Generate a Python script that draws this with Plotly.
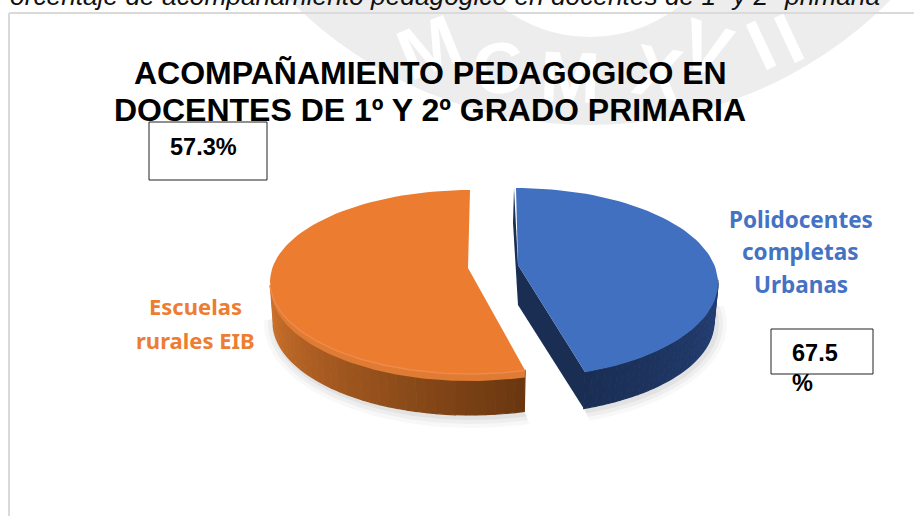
import numpy as np
import plotly.graph_objects as go

# ---- data ----
category_lines = [["Polidocentes", "completas", "Urbanas"], ["Escuelas", "rurales EIB"]]
slice_shares = [45.0, 55.0]          # visual share of each slice
box_labels = [["67.5", "%"], ["57.3%"]]
title_lines = ["ACOMPAÑAMIENTO PEDAGOGICO EN", "DOCENTES DE 1º Y 2º GRADO PRIMARIA"]
caption = "orcentaje de acompañamiento pedagógico en docentes de 1º y 2º primaria"
watermark = ["M", "C", "M", "X", "V", "I", "I"]

W, H = 914, 516
GAP = 2.0
bounds = np.cumsum([0] + slice_shares) / sum(slice_shares) * 360
blue_range = (bounds[0], bounds[1] - GAP)
orange_range = (bounds[1] + GAP, bounds[2])

def arc(c, t0, t1, n=80):
    t = np.radians(np.linspace(t0, t1, n))
    return c[0] + c[2] * np.sin(t), c[1] - c[3] * np.cos(t)

def lerp(a, b, f):
    return "#%02x%02x%02x" % tuple(int(round(a[i] + (b[i] - a[i]) * f)) for i in range(3))

fig = go.Figure()

def poly(x, y, color, line=None, lw=0):
    fig.add_trace(go.Scatter(x=list(x), y=list(y), mode="lines", fill="toself",
                             fillcolor=color, hoverinfo="skip", showlegend=False,
                             line=dict(color=line or color, width=lw)))

def side(top, bot, t0, t1, c0, c1, n=36):
    e = np.linspace(t0, t1, n + 1)
    for i in range(n):
        xa, ya = arc(top, e[i], e[i + 1], 4)
        xb, yb = arc(bot, e[i], e[i + 1], 4)
        col = lerp(c0, c1, i / (n - 1))
        poly(np.r_[xa, xb[::-1]], np.r_[ya, yb[::-1]], col, line=col, lw=1.2)

o_top = (470, 282, 200, 92)
o_bot = (470, 322, 197, 93)
o_apex = (468, 268)
b_top = (516, 283, 202, 95)
b_bot = (516, 322, 198, 92)
b_apex = (518, 265)

# soft shadow beneath the solids
for grow, alpha in [(11, 0.06), (7, 0.08), (3, 0.10)]:
    for c, t0, t1 in [(o_bot, orange_range[0], 272), (b_bot, 80, blue_range[1])]:
        x, y = arc(c, t0, t1)
        x2, y2 = arc((c[0] + 2, c[1] + 2, c[2] + grow, c[3] + grow), t0, t1)
        poly(np.r_[x, x2[::-1]], np.r_[y, y2[::-1]], f"rgba(130,130,130,{alpha})")

# orange solid
side(o_top, o_bot, 268, orange_range[0], (0xCE, 0x72, 0x2C), (0x6A, 0x37, 0x10))
xa, ya = arc(o_top, orange_range[0], 268)
xb, yb = arc((o_top[0], o_top[1] + 7, o_top[2] - 1, o_top[3]), orange_range[0], 268)
poly(np.r_[xa, xb[::-1]], np.r_[ya, yb[::-1]], "#DF7B33")
x, y = arc(o_top, orange_range[0], orange_range[1])
poly(np.r_[o_apex[0], x, o_apex[0]], np.r_[o_apex[1], y, o_apex[1]], "#EB7C30")
x, y = arc(o_top, orange_range[0], 268)
fig.add_trace(go.Scatter(x=x, y=y, mode="lines", hoverinfo="skip", showlegend=False,
                         line=dict(color="#EF8A4C", width=1.5)))

# blue solid
xs, ys = arc(b_top, blue_range[0], blue_range[0], 1)
poly([xs[0] - 2, b_apex[0], b_apex[0], xs[0] - 3],
     [ys[0], b_apex[1], b_apex[1] + 40, ys[0] + 35], "#1B2F55")
side(b_top, b_bot, 88, blue_range[1], (0x24, 0x40, 0x76), (0x1A, 0x2E, 0x54))
xe, ye = arc(b_top, blue_range[1], blue_range[1], 1)
xf, yf = arc(b_bot, blue_range[1], blue_range[1], 1)
poly([b_apex[0], b_apex[0], xf[0], xe[0]],
     [b_apex[1], b_apex[1] + 40, yf[0], ye[0]], "#1A2E54")
x, y = arc(b_top, blue_range[0], blue_range[1])
poly(np.r_[b_apex[0], x, b_apex[0]], np.r_[b_apex[1], y, b_apex[1]], "#4170C0")

shapes = [
    dict(type="circle", x0=166, x1=1014, y0=-723, y1=125, fillcolor="#EDEDED",
         line_width=0, layer="below"),
    dict(type="circle", x0=445, x1=735, y0=-253, y1=37, fillcolor="white",
         line_width=0, layer="below"),
    dict(type="line", x0=9, x1=W, y0=13, y1=13, line=dict(color="#DADADA", width=2), layer="below"),
    dict(type="line", x0=9, x1=9, y0=13, y1=H, line=dict(color="#DADADA", width=2), layer="below"),
    dict(type="rect", x0=149, x1=267, y0=122, y1=180, fillcolor="white",
         line=dict(color="#222222", width=1)),
    dict(type="rect", x0=771, x1=873, y0=329, y1=374, fillcolor="white",
         line=dict(color="#222222", width=1)),
]

ann = []
def text(x, y, s, size, color="black", family="Liberation Sans", bold=False, italic=False,
         xanchor="center", angle=0):
    if bold:
        s = "<b>" + s + "</b>"
    if italic:
        s = "<i>" + s + "</i>"
    ann.append(dict(x=x / W, y=1 - y / H, text=s, showarrow=False, xanchor=xanchor, yanchor="middle",
                    textangle=angle, xref="paper", yref="paper",
                    font=dict(size=size, color=color, family=family)))

for s, x, y, a in zip(watermark,
                      [429, 499, 570, 658, 706, 761, 789],
                      [47, 68, 77, 72, 48, 45, 38],
                      [-22, -10, 2, 10, 18, -25, -25]):
    text(x, y, s, 72, color="white", bold=True, angle=a)

text(8, -4, caption, 26.3, color="#111111", italic=True, xanchor="left")
text(430, 73, title_lines[0], 32, bold=True)
text(430, 110, title_lines[1], 32, bold=True)
for line, y in zip(category_lines[0], [219, 251, 284]):
    text(800.5, y, line, 22.5, color="#4472C4", family="Noto Sans", bold=True)
for line, y in zip(category_lines[1], [306, 340]):
    text(195, y, line, 22, color="#ED7D31", family="Noto Sans", bold=True)
text(168, 147, box_labels[1][0], 23.5, bold=True, xanchor="left")
text(790, 353, box_labels[0][0], 23.5, bold=True, xanchor="left")
text(790, 383, box_labels[0][1], 23.5, bold=True, xanchor="left")

fig.update_layout(
    width=W, height=H, margin=dict(l=0, r=0, t=0, b=0),
    paper_bgcolor="white", plot_bgcolor="rgba(0,0,0,0)",
    xaxis=dict(range=[0, W], visible=False, fixedrange=True),
    yaxis=dict(range=[H, 0], visible=False, fixedrange=True),
    shapes=shapes, annotations=ann, showlegend=False,
)
fig.write_html("out.html", config=dict(displayModeBar=False),
               post_script="document.body.style.margin='0';document.body.style.overflow='hidden';")
